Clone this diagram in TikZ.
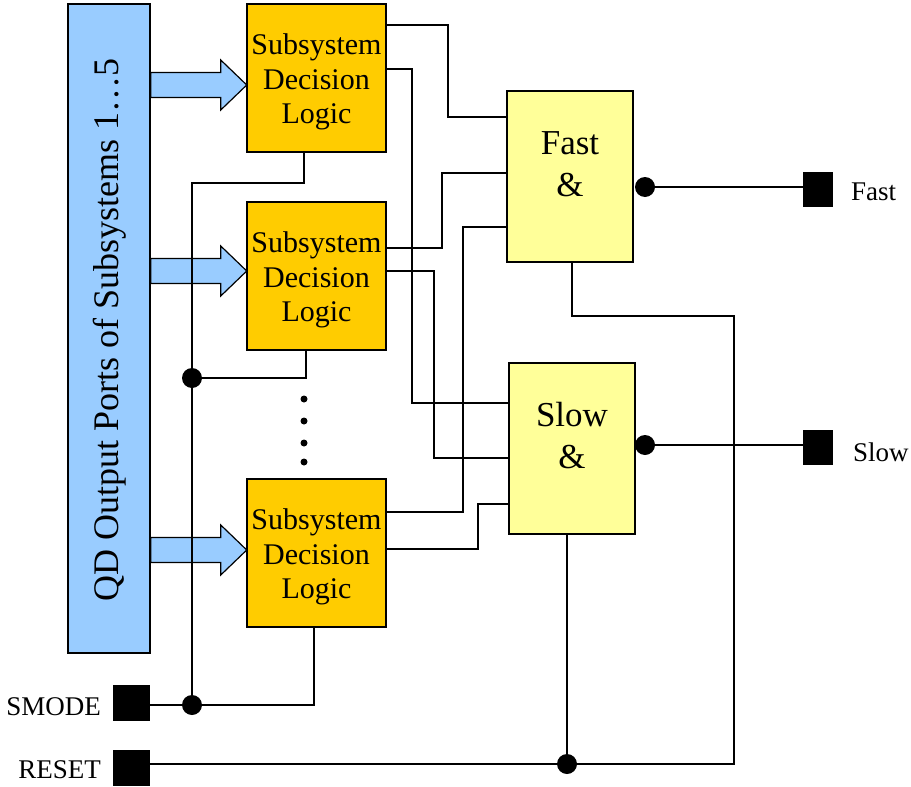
\documentclass[tikz,border=0pt]{standalone}
\usepackage{fontspec}
\setmainfont{Liberation Serif}
\definecolor{qdblue}{HTML}{99CCFF}
\definecolor{subgold}{HTML}{FFCC00}
\definecolor{gateyellow}{HTML}{FFFF99}

\begin{document}
\begin{tikzpicture}[x=1pt,y=-1pt,
  wire/.style={line width=1.5pt},
  border/.style={draw, line width=2pt},
  subbox/.style={border, fill=subgold, minimum width=139pt, minimum height=148pt, inner sep=0pt},
  subtext/.style={align=center, inner sep=0pt, font=\fontsize{30}{34.5}\selectfont},
  gatebox/.style={border, fill=gateyellow, minimum width=126pt, minimum height=171pt, inner sep=0pt},
  gatetext/.style={align=center, inner sep=0pt, font=\fontsize{35}{42}\selectfont},
  portsq/.style={fill=black, minimum width=37pt, minimum height=36pt, inner sep=0pt},
  outsq/.style={fill=black, minimum width=30pt, minimum height=35pt, inner sep=0pt},
  joint/.style={circle, fill=black, minimum size=20pt, inner sep=0pt},
  smalldot/.style={circle, fill=black, minimum size=7pt, inner sep=0pt},
  lbl/.style={inner sep=0pt, font=\fontsize{27}{32}\selectfont},
  fatarrow/.pic={\draw[line width=1.2pt, fill=qdblue, line join=miter]
      (0,-12.5) -- (70,-12.5) -- (70,-25) -- (96,0) -- (70,25) -- (70,12.5) -- (0,12.5) -- cycle;}
]
\useasboundingbox (0,0) rectangle (911,787);

% source block of subsystem ports
\node[border, line width=1.5pt, fill=qdblue, minimum width=82pt, minimum height=649pt, inner sep=0pt]
  (qd) at (109,328.5) {};
\node[rotate=90, inner sep=0pt, font=\fontsize{36}{40}\selectfont] (qdtext) at (110,330)
  {QD Output Ports of Subsystems 1…5};

% decision logic blocks
\node[subbox] (sub1) at (316.5,78) {};
\node[subtext] (sub1text) at (316.5,82) {Subsystem\\Decision\\Logic};
\node[subbox] (sub2) at (316.5,276) {};
\node[subtext] (sub2text) at (316.5,280) {Subsystem\\Decision\\Logic};
\node[subbox] (sub3) at (316.5,553) {};
\node[subtext] (sub3text) at (316.5,557) {Subsystem\\Decision\\Logic};

% block arrows feeding each decision block
\pic at (qd.east |- 0,85) {fatarrow};
\pic at (qd.east |- 0,271) {fatarrow};
\pic at (qd.east |- 0,550) {fatarrow};

% vertical ellipsis between blocks
\node[smalldot] (e1) at (304,399) {};
\node[smalldot] (e2) at (304,421) {};
\node[smalldot] (e3) at (304,443) {};
\node[smalldot] (e4) at (304,462) {};

% AND gates
\node[gatebox] (fast) at (570,176.5) {};
\node[gatetext] (fasttext) at (570,164) {Fast\\\&};
\node[gatebox] (slow) at (572,448.5) {};
\node[gatetext] (slowtext) at (572,436) {Slow\\\&};

% input / output ports
\node[portsq] (smode) at (131.5,703) {};
\node[lbl, anchor=east] (smodelbl) at (101,707) {SMODE};
\node[portsq] (reset) at (131.5,768) {};
\node[lbl, anchor=east] (resetlbl) at (101,770) {RESET};

\node[joint] (fastinv) at (645,187) {};
\node[outsq] (fastout) at (818,189) {};
\node[lbl, anchor=west] (fastlbl) at (851,192) {Fast};
\node[joint] (slowinv) at (645,445) {};
\node[outsq] (slowout) at (818,447) {};
\node[lbl, anchor=west] (slowlbl) at (853,452) {Slow};

% junction dots
\node[joint] (j2) at (192,378) {};
\node[joint] (jsm) at (192,705) {};
\node[joint] (jrs) at (567,764) {};

% decision outputs to the gates
\draw[wire] (sub1.east |- 0,25) -| (448,117) -- (fast.west |- 0,117);
\draw[wire] (sub1.east |- 0,69) -| (412,403) -- (slow.west |- 0,403);
\draw[wire] (sub2.east |- 0,248) -| (442,173) -- (fast.west |- 0,173);
\draw[wire] (sub2.east |- 0,271) -| (434,458) -- (slow.west |- 0,458);
\draw[wire] (sub3.east |- 0,512) -| (463,227) -- (fast.west |- 0,227);
\draw[wire] (sub3.east |- 0,549) -| (478,504) -- (slow.west |- 0,504);

% SMODE distribution bus
\draw[wire] (sub1.south -| 304,0) |- (192,183) -- (jsm.center);
\draw[wire] (sub2.south -| 306,0) |- (j2.center);
\draw[wire] (sub3.south -| 314,0) |- (jsm.center);
\draw[wire] (smode.east |- jsm) -- (jsm.center);

% RESET distribution
\draw[wire] (reset.east |- jrs) -- (jrs.center);
\draw[wire] (jrs.center) -| (734,316) -| (fast.south -| 572,0);
\draw[wire] (slow.south -| jrs) -- (jrs.center);

% gate outputs
\draw[wire] (fastinv.center) -- (fastout.west |- fastinv);
\draw[wire] (slowinv.center) -- (slowout.west |- slowinv);
\end{tikzpicture}
\end{document}
